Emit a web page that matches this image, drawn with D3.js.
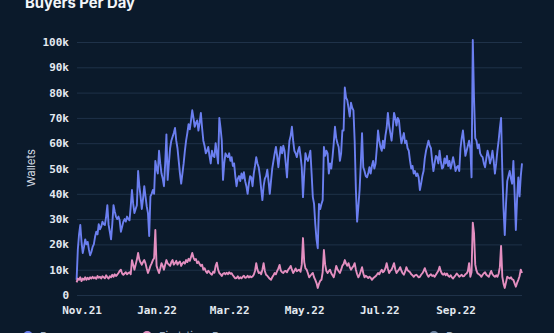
<!DOCTYPE html>
<html>
<head>
<meta charset="utf-8">
<script src="https://cdn.jsdelivr.net/npm/d3@7"></script>
<style>
  html, body { margin: 0; padding: 0; background: #0b1a2b; }
  svg { display: block; }
</style>
</head>
<body>
<svg id="chart" width="554" height="333"></svg>
<script>
// Daily series, first day 2021-10-28, values in thousands of wallets
const startDate = "2021-10-28";

const buyers = [
  6,18,24,27.7,21,16.6,19,22,20,21,
  18,15.7,17,19,20,23,25,24,28,26,
  27,29,28,27.7,31,35.5,27.7,25,22,28,
  35.5,33,31,30,31,29.5,25,27,29,30,
  29,31,30,29.5,35,41.5,36,32.4,34,35.5,
  49,43,39,34,38,43,39,35,32.4,23.3,
  39,40,41.5,40,53,50,48,57,52,48,
  46,43,52,63.5,45.5,52,58,61,62.5,64,
  66,61,58,53,48,44,48,52,57,61,
  64,67.5,65.5,69,73,70,66.5,68,69,65,
  68,72,66,61,59,56,57,58.5,55,52,
  57,55,54.5,60,56,52,70,66,61,45.5,
  52,56,55,54.5,56,53,54.5,51,52,47,
  43,46,47,45,48,46,48.5,45,43,40,
  44,47,46.5,43,48,51,54.5,52,50.5,47,
  42,37.5,43,46,47,49.5,45,40,45,50,
  53,56,58.5,55,50.5,55,58.5,56,59,57,
  52,46.5,55,61,63,66.5,61,57,56,54.5,
  57,58.5,55,50.5,38.7,48,56,54,53,55,
  57,48,38.7,36,28,22,18.5,36,34,36,
  37.5,58.5,55,57,56,48,52,50,54.5,60,
  66.5,62,60,58.5,53,56,65,65,82,78,
  77,74,70.5,76,74,73,61,41.5,29,35,
  41.5,52,64,50.5,49,47,46.5,48,50.5,48,
  51,53,50,52,58,65,61,58.5,57,61,
  58,63,66,72,67,64,61,66,72,70,
  67,70,69,64,60,62,64,60,61,58,
  57,53,50,51,48,49,47,48,46.5,41.5,
  44,47,49,54,57,59,61,59,58,53,
  49,52,55,54.5,52,57,53,50,50.5,54,
  52,55,51,53,50,52,54.5,52,49,50.5,
  51,49,58,62,65,60,55,57,59,61,
  58,46.5,100.8,78,62,61,58,59.5,56,55,
  54.5,52,50.5,54,57,55,52,54,57,53,
  48,52,57,61,66,70,49,34,23.7,36,
  45,47,49,46,44,53,40,25.7,38,46.5,
  39,47,52
];

const newBuyers = [
  5,6.5,6,7,5.5,6.5,6,7,6,6.8,
  6.2,7,6.5,7.2,6.6,7,6.4,7.5,6.8,7.2,
  6.5,7.4,7,6.6,7.8,7,6.5,7.4,7,8,
  7.2,8.2,7.5,8,8.7,9.5,10,8.5,8,8.5,
  9,8.2,8.7,9,8.2,13.8,12,10,12,14,
  16.6,14,12.8,12,13,13.8,12.5,10.5,8.7,10,
  11.5,12.5,13.8,14.5,25.7,11.5,10,8.7,10.5,12.6,
  11.5,10,12,13.8,12.5,12,11.5,13,13.8,12,
  12.6,13.5,12,12.8,13.2,11.5,12.5,13,12.4,13.8,
  13,14.3,13.5,15,16.6,14.8,13.8,14.2,12.6,13.2,
  12.2,11.5,12,10,10.6,9.4,8.7,9.6,9,8.4,
  8,9.2,8.8,11.5,12.8,10,8.7,8.2,7.5,8.4,
  8.7,8.2,8.8,8.2,9,8.4,8.6,7.8,7.2,6.6,
  6.7,7.4,6.5,7,6.6,7.2,7.6,6.8,7,7.6,
  6.9,7.4,7,7.3,8,9.5,12.6,10,8.7,9,
  8.2,10,12.6,9.5,8,7.6,7,6.4,6,7,
  7.8,8.7,8.2,9.5,10.5,11.9,9.6,9,8.7,9.4,
  9.5,9,10,10.6,11.5,10,8.7,9.5,10.5,9.4,
  9.8,10,9.2,12,22.5,13,10.5,10,8.6,7,
  7.6,8.2,8.7,7,6,4.7,2.8,4.5,5.6,6,
  9,17.8,12,9.5,8.7,9.4,10,8.6,7.8,7,
  9,11.5,10.2,9.4,8.7,10,11.6,12.2,13.8,12.4,
  11.6,12.6,11,10,10.8,11.4,12.6,10,8.2,7,
  8,9.5,11,8.6,7,7.6,7.2,6.7,7.2,6.8,
  6,6.6,7,7.4,8,8.7,8.2,9.2,10,9,
  9.5,10.6,12.6,10.4,8.7,9.6,10,11.2,12.6,10.2,
  8.7,9.4,10,11,9.6,8.6,8,9.2,11,9.8,
  9.4,9,8.2,7.8,7.2,7.8,8,7.6,7,7.2,
  8,8.6,9.4,10.6,9.2,8,7.2,7.8,8.2,7.5,
  7.8,7.2,8,8.8,9.6,11.2,9.4,8.4,8,8.6,
  7.8,8.5,7.6,7.2,7.8,7,6.5,7.2,7.8,8.5,
  7.9,7.2,7.6,8,7.4,7.5,8.2,8.5,9.4,12.6,
  7.2,9,28.6,24.5,12,9.6,8.5,8.2,7.8,7.2,
  8,8.6,9,8,7.6,7.2,8.4,9.5,8.2,7.6,
  7.2,7.8,7.2,8.4,11,19.4,7.2,4.5,2.8,5,
  7.2,6.8,6.5,7,6.2,6,4.6,3.3,4.8,6,
  7.4,10,8.7
];

const yTickValues = [0, 10, 20, 30, 40, 50, 60, 70, 80, 90, 100];
const yTickLabels = ["0", "10k", "20k", "30k", "40k", "50k", "60k", "70k", "80k", "90k", "100k"];
const xTickDates = ["2021-11-01", "2022-01-01", "2022-03-01", "2022-05-01", "2022-07-01", "2022-09-01"];
const seriesNames = ["Buyers", "First-time Buyers"];
const seriesColors = ["#6b7ff0", "#e48fc0"];

const svg = d3.select("#chart");
const W = 554, H = 333;

const parse = d3.utcParse("%Y-%m-%d");
const t0 = parse(startDate);
const dayDate = i => d3.utcDay.offset(t0, i);
const nDays = buyers.length;

const x = d3.scaleUtc()
  .domain([t0, dayDate(nDays - 1)])
  .range([76.6, 522]);
const y = d3.scaleLinear()
  .domain([0, 100])
  .range([295, 42]);

svg.append("rect").attr("width", W).attr("height", H).attr("fill", "#0b1a2b");

// Title (sits at the top edge)
svg.append("text")
  .attr("x", 25).attr("y", 8)
  .attr("fill", "#f2f5f9")
  .attr("font-family", "Inter, 'Noto Sans', sans-serif")
  .attr("font-weight", 700)
  .attr("font-size", 14.8)
  .text("Buyers Per Day");

// Horizontal grid + y labels
const yAxis = d3.axisLeft(y)
  .tickValues(yTickValues)
  .tickSize(-(522 - 77))
  .tickPadding(8)
  .tickFormat((d, i) => yTickLabels[i]);
const gy = svg.append("g").attr("transform", "translate(77,0)").call(yAxis);
gy.select(".domain").remove();
gy.selectAll(".tick line").attr("stroke", "#1f3249").attr("stroke-width", 1);
gy.selectAll(".tick text")
  .attr("fill", "#e3e9f0")
  .attr("font-family", "'DejaVu Sans Mono', monospace")
  .attr("font-weight", 700)
  .attr("font-size", 11);

// X labels
const xAxis = d3.axisBottom(x)
  .tickValues(xTickDates.map(parse))
  .tickSize(0)
  .tickPadding(11)
  .tickFormat(d3.utcFormat("%b.%y"));
const gx = svg.append("g").attr("transform", "translate(0,295)").call(xAxis);
gx.select(".domain").remove();
gx.selectAll(".tick text")
  .attr("fill", "#e3e9f0")
  .attr("font-family", "'DejaVu Sans Mono', monospace")
  .attr("font-weight", 700)
  .attr("font-size", 11);

// Y axis title
svg.append("text")
  .attr("transform", "translate(35,168) rotate(-90)")
  .attr("text-anchor", "middle")
  .attr("fill", "#d6dde6")
  .attr("font-family", "Inter, 'Noto Sans', sans-serif")
  .attr("font-size", 11)
  .text("Wallets");

// Lines
const line = d3.line()
  .x((d, i) => x(dayDate(i)))
  .y(d => y(d));

[buyers, newBuyers].forEach((series, k) => {
  svg.append("path")
    .datum(series)
    .attr("fill", "none")
    .attr("stroke", seriesColors[k])
    .attr("stroke-width", 1.9)
    .attr("stroke-linejoin", "round")
    .attr("d", line);
});

// Legend (runs off the bottom edge)
const legendX = [28, 147];
seriesNames.forEach((name, k) => {
  svg.append("circle")
    .attr("cx", legendX[k]).attr("cy", 336).attr("r", 5)
    .attr("fill", seriesColors[k]);
  svg.append("text")
    .attr("x", legendX[k] + 12).attr("y", 340)
    .attr("fill", "#9fb0c4")
    .attr("font-family", "Inter, 'Noto Sans', sans-serif")
    .attr("font-size", 11)
    .text(name);
});
svg.append("circle")
  .attr("cx", 434).attr("cy", 336).attr("r", 5)
  .attr("fill", "#6f86a3");
svg.append("text")
  .attr("x", 446).attr("y", 340)
  .attr("fill", "#9fb0c4")
  .attr("font-family", "Inter, 'Noto Sans', sans-serif")
  .attr("font-size", 11)
  .text("Dune");
</script>
</body>
</html>
